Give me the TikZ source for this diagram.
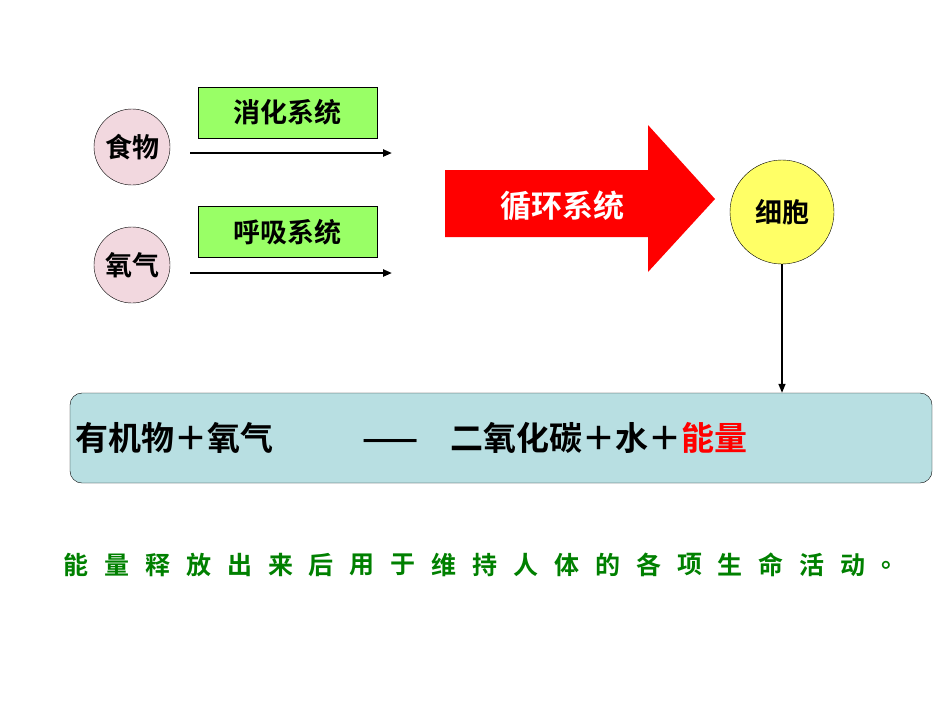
\documentclass[tikz,border=0pt]{standalone}
\usepackage{fontspec}
\newfontfamily\cjk{Noto Sans CJK SC Bold}
\usetikzlibrary{arrows.meta}
\definecolor{pinkc}{HTML}{F2D8DF}
\definecolor{greenc}{HTML}{99FF66}
\definecolor{yellowc}{HTML}{FFFF66}
\definecolor{tealc}{HTML}{B8DFE2}
\definecolor{dgreen}{HTML}{008000}
\tikzset{
  circ/.style={circle,draw=black,thin,fill=pinkc,minimum size=76pt,inner sep=0pt,font=\cjk\fontsize{27}{27}\selectfont},
  gbox/.style={draw=black,thin,fill=greenc,minimum width=179pt,minimum height=51pt,inner sep=0pt,font=\cjk\fontsize{27}{27}\selectfont},
  arr/.style={-{Triangle[length=9pt,width=7pt]},line width=2.2pt},
  eq/.style={anchor=base west,inner sep=0pt,font=\cjk\fontsize{33}{33}\selectfont},
  bt/.style={inner sep=0pt,text=dgreen,font=\cjk\fontsize{25}{25}\selectfont}
}
\begin{document}
\begin{tikzpicture}[x=1pt,y=-1pt]
\useasboundingbox (0,0) rectangle (950,713);
\node[circ] (food) at (132,147) {食物};
\node[circ] (oxy) at (132,265) {氧气};
\node[gbox] (dig) at (287.5,112.5) {消化系统};
\node[gbox] (res) at (287.5,232) {呼吸系统};
\coordinate (a1s) at (190,153); \coordinate (a1e) at (392,153);
\coordinate (a2s) at (190,273); \coordinate (a2e) at (392,273);
\draw[arr] (a1s) -- (a1e);
\draw[arr] (a2s) -- (a2e);
\fill[red] (445,170) -- (648,170) -- (648,125) -- (715,199) -- (648,272) -- (648,237) -- (445,237) -- cycle;
\node[text=white,font=\cjk\fontsize{31}{31}\selectfont] (circ) at (562,206) {循环系统};
\node[circle,draw=black,thin,fill=yellowc,minimum size=104pt,inner sep=0pt,font=\cjk\fontsize{27}{27}\selectfont] (cell) at (782,212) {细胞};
\node[draw=black,thin,fill=tealc,rounded corners=12pt,minimum width=862pt,minimum height=90pt,inner sep=0pt] (eqbox) at (501,438) {};
\draw[-{Triangle[length=9pt,width=7pt]},line width=1.5pt] (cell) -- (cell|-eqbox.north);
\node[eq] (eq1) at (75,450) {有机物＋氧气};
\node[eq] (eq2) at (362,450) {——};
\node[eq] (eq3) at (450,450) {二氧化碳＋水＋\textcolor{red}{能量}};
\foreach \c [count=\i from 0] in {能,量,释,放,出,来,后,用,于,维,持,人,体,的,各,项,生,命,活,动,。}
  \node[bt] (b\i) at ({76+\i*40.9},565) {\c};
\end{tikzpicture}
\end{document}
